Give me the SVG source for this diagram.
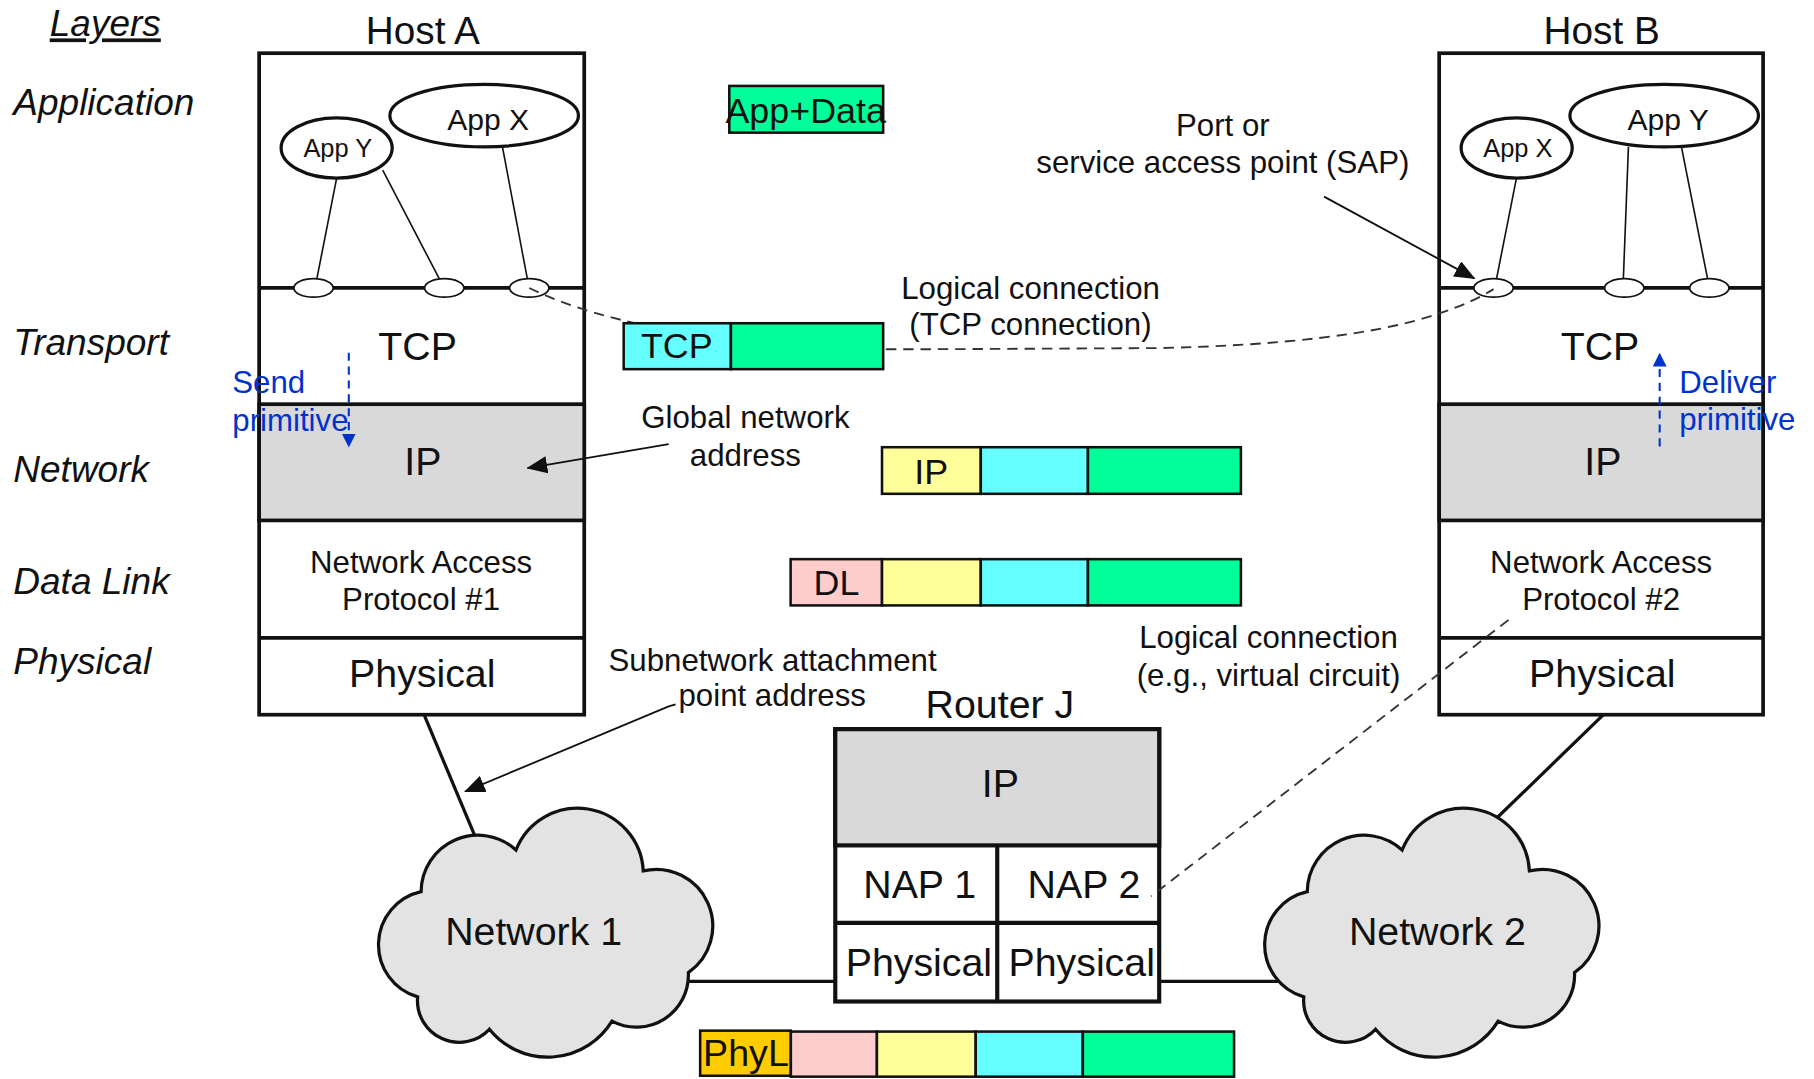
<svg xmlns="http://www.w3.org/2000/svg" width="1814" height="1079" viewBox="0 0 1814 1079">
<style>
.t{font-family:"Liberation Sans",Arial,Helvetica,sans-serif;fill:#111}
.it{font-style:italic;font-size:32px}
.c{text-anchor:middle}
.lbl{font-size:27px}
.big{font-size:34px}
.blue{fill:#0033cc;font-size:27px}
.box{fill:#fff;stroke:#111;stroke-width:3.2}
.gray{fill:#d9d9d9;stroke:#111;stroke-width:3.2}
.div{stroke:#111;stroke-width:3.2}
.app{fill:#fff;stroke:#111;stroke-width:2.8}
.port{fill:#fff;stroke:#111;stroke-width:1.5}
.thin{stroke:#111;stroke-width:1.4;fill:none}
.pk{stroke:#111;stroke-width:2.2}
.green{fill:#00ff99}.cyan{fill:#66ffff}.yellow{fill:#ffff99}.pink{fill:#ffcccc}.orange{fill:#ffcc00}
.cloud{fill:#e3e3e3;stroke:#111;stroke-width:2.8}
.link{stroke:#111;stroke-width:2.8;fill:none}
.dash{stroke:#333;stroke-width:1.6;fill:none;stroke-dasharray:9 6}
.arrow{stroke:#111;stroke-width:1.6;fill:none;marker-end:url(#arr)}
.bdash{stroke:#0033cc;stroke-width:1.8;fill:none;stroke-dasharray:7 5;marker-end:url(#arrb)}
</style>
<defs>
<marker id="arr" viewBox="0 0 18 15" refX="17" refY="7.5" markerWidth="18" markerHeight="15" orient="auto" markerUnits="userSpaceOnUse"><path d="M0,0 L18,7.5 L0,15 Z" fill="#111"/></marker>
<marker id="arrb" viewBox="0 0 12 12" refX="11" refY="6" markerWidth="12" markerHeight="12" orient="auto" markerUnits="userSpaceOnUse"><path d="M0,0 L12,6 L0,12 Z" fill="#0033cc"/></marker>
<path id="cloudShape" d="M1127,862 A47,47 0 0 1 1130,771 A49,49 0 0 1 1212,735 A57,57 0 0 1 1322,753 A49,49 0 0 1 1361,841 A45,45 0 0 1 1295,883 A65,65 0 0 1 1189,890 A36,36 0 0 1 1127,862 Z"/>
</defs>
<rect width="1814" height="1079" fill="#fff"/>
<g transform="scale(1.15689,1.15648)">

<g id="layers">
<text class="t it" x="43" y="31.5" text-decoration="underline">Layers</text>
<text class="t it" x="11.5" y="99.5">Application</text>
<text class="t it" x="11.5" y="307">Transport</text>
<text class="t it" x="11.5" y="417">Network</text>
<text class="t it" x="11.5" y="513.5">Data Link</text>
<text class="t it" x="11.5" y="582.5">Physical</text>
</g>

<g id="links">
<line class="link" x1="367" y1="619" x2="416" y2="736"/>
<line class="link" x1="1386" y1="618" x2="1290" y2="711"/>
<line class="link" x1="585" y1="848.5" x2="722" y2="848.5"/>
<line class="link" x1="1002" y1="848.5" x2="1118" y2="848.5"/>
</g>

<g id="host-a">
<rect class="box" x="224" y="46" width="281" height="572"/>
<rect class="gray" x="224" y="349.5" width="281" height="100.5"/>
<line class="div" x1="224" y1="249" x2="505" y2="249"/>
<line class="div" x1="224" y1="551.5" x2="505" y2="551.5"/>
<line class="thin" x1="291" y1="154" x2="273.9" y2="241"/>
<line class="thin" x1="330.8" y1="147" x2="379.7" y2="241"/>
<line class="thin" x1="434.3" y1="127" x2="455.8" y2="241"/>
<ellipse class="app" cx="291" cy="128" rx="48" ry="26"/>
<ellipse class="app" cx="418.5" cy="100" rx="81.5" ry="27"/>
<ellipse class="port" cx="271" cy="249" rx="17" ry="8"/>
<ellipse class="port" cx="384" cy="249" rx="17" ry="8"/>
<ellipse class="port" cx="457.5" cy="249" rx="17" ry="8"/>
<text class="t c" x="365.5" y="38.3" font-size="33.5">Host A</text>
<text class="t c" x="292" y="136" font-size="22">App Y</text>
<text class="t c" x="422" y="112.4" font-size="26">App X</text>
<text class="t c big" x="361" y="311.7">TCP</text>
<text class="t c big" x="365.5" y="410.6">IP</text>
<text class="t c" x="364" y="495.5" font-size="27">Network Access</text>
<text class="t c" x="364" y="527.8" font-size="27">Protocol #1</text>
<text class="t c big" x="365" y="594">Physical</text>
</g>

<g id="host-b">
<rect class="box" x="1244" y="46" width="280" height="572"/>
<rect class="gray" x="1244" y="349.5" width="280" height="100.5"/>
<line class="div" x1="1244" y1="249" x2="1524" y2="249"/>
<line class="div" x1="1244" y1="551.5" x2="1524" y2="551.5"/>
<line class="thin" x1="1310.8" y1="154" x2="1293.6" y2="241"/>
<line class="thin" x1="1407.6" y1="127" x2="1403.2" y2="241"/>
<line class="thin" x1="1453.2" y1="126" x2="1476" y2="241"/>
<ellipse class="app" cx="1311" cy="128" rx="48" ry="26"/>
<ellipse class="app" cx="1438.5" cy="100" rx="81.5" ry="27"/>
<ellipse class="port" cx="1291" cy="249" rx="17" ry="8"/>
<ellipse class="port" cx="1404" cy="249" rx="17" ry="8"/>
<ellipse class="port" cx="1477.5" cy="249" rx="17" ry="8"/>
<text class="t c" x="1384.5" y="38.3" font-size="33.5">Host B</text>
<text class="t c" x="1312" y="136" font-size="22">App X</text>
<text class="t c" x="1442" y="112.4" font-size="26">App Y</text>
<text class="t c big" x="1383" y="311.7">TCP</text>
<text class="t c big" x="1385.5" y="410.6">IP</text>
<text class="t c" x="1384" y="495.5" font-size="27">Network Access</text>
<text class="t c" x="1384" y="527.8" font-size="27">Protocol #2</text>
<text class="t c big" x="1385" y="594">Physical</text>
</g>

<g id="router-j">
<rect class="box" x="722" y="630.5" width="280" height="235.5" style="stroke-width:3.6"/>
<rect class="gray" x="722" y="630.5" width="280" height="100.5" style="stroke-width:3.6"/>
<line class="div" x1="722" y1="798" x2="1002" y2="798" style="stroke-width:3.6"/>
<line class="div" x1="862" y1="731" x2="862" y2="866" style="stroke-width:3.6"/>
<text class="t c big" x="864.3" y="621">Router J</text>
<text class="t c big" x="864.7" y="689.2">IP</text>
<text class="t c big" x="795" y="776.5">NAP 1</text>
<text class="t c big" x="937" y="776.5">NAP 2</text>
<text class="t c big" x="794.3" y="843.6">Physical</text>
<text class="t c big" x="935" y="843.6">Physical</text>
</g>

<g id="network-1">
<use href="#cloudShape" class="cloud" transform="translate(-766,0)"/>
<text class="t c big" x="461.3" y="816.8">Network 1</text>
</g>

<g id="network-2">
<use href="#cloudShape" class="cloud"/>
<text class="t c big" x="1242.5" y="816.8">Network 2</text>
</g>

<g id="connectors">
<path class="dash" d="M457.5,249 C490,265 530,277 600,290 C680,303 740,302 800,302 L1000,301 C1100,299 1190,290 1244,271 C1265,264 1280,257 1291,250"/>
<line class="dash" x1="1304" y1="536" x2="995" y2="775"/>
<line class="arrow" x1="1144.5" y1="170" x2="1274.4" y2="240.7"/>
<line class="arrow" x1="578" y1="384" x2="456" y2="404.8"/>
<polyline class="arrow" points="584,609 578,610.8 402,684.4"/>
<line class="bdash" x1="301.5" y1="305" x2="301.5" y2="386"/>
<line class="bdash" x1="1434.6" y1="386" x2="1434.6" y2="306"/>
</g>

<g id="labels">
<text class="t c lbl" x="1057" y="118">Port or</text>
<text class="t c lbl" x="1057" y="149.8">service access point (SAP)</text>
<text class="t c lbl" x="890.8" y="258.7">Logical connection</text>
<text class="t c lbl" x="890.7" y="289.6">(TCP connection)</text>
<text class="t c lbl" x="644.3" y="370.2">Global network</text>
<text class="t c lbl" x="644.3" y="402.8">address</text>
<text class="t c lbl" x="667.8" y="580.6">Subnetwork attachment</text>
<text class="t c lbl" x="667.5" y="610.2">point address</text>
<text class="t c lbl" x="1096.5" y="560.4">Logical connection</text>
<text class="t c lbl" x="1096.5" y="593.5">(e.g., virtual circuit)</text>
<text class="t blue" x="200.8" y="340">Send</text>
<text class="t blue" x="200.8" y="372.5">primitive</text>
<text class="t blue" x="1451.5" y="340">Deliver</text>
<text class="t blue" x="1451.5" y="372">primitive</text>
</g>

<g id="pkt-app">
<rect class="pk green" x="630.4" y="74.3" width="133" height="40.4"/>
<text class="t c" x="696.4" y="106" font-size="31">App+Data</text>
</g>

<g id="pkt-tcp">
<rect class="pk cyan" x="539.1" y="279.5" width="92.7" height="39.7"/>
<rect class="pk green" x="631.8" y="279.5" width="131.6" height="39.7"/>
<text class="t c" x="585" y="309.7" font-size="31">TCP</text>
</g>

<g id="pkt-ip">
<rect class="pk yellow" x="762.4" y="386.7" width="85.4" height="40.3"/>
<rect class="pk cyan" x="847.8" y="386.7" width="92.6" height="40.3"/>
<rect class="pk green" x="940.4" y="386.7" width="132.2" height="40.3"/>
<text class="t c" x="805" y="418.6" font-size="31">IP</text>
</g>

<g id="pkt-dl">
<rect class="pk pink" x="683.4" y="483.5" width="79" height="40"/>
<rect class="pk yellow" x="762.4" y="483.5" width="85.4" height="40"/>
<rect class="pk cyan" x="847.8" y="483.5" width="92.6" height="40"/>
<rect class="pk green" x="940.4" y="483.5" width="132.2" height="40"/>
<text class="t c" x="723" y="514.3" font-size="31">DL</text>
</g>

<g id="pkt-phyl">
<rect class="pk orange" x="605.2" y="891.2" width="78.4" height="39"/>
<rect class="pk pink" x="683.6" y="892" width="74.4" height="39"/>
<rect class="pk yellow" x="758" y="892" width="85.4" height="39"/>
<rect class="pk cyan" x="843.4" y="892" width="92.6" height="39"/>
<rect class="pk green" x="936" y="892" width="130.7" height="39"/>
<text class="t c" x="644.8" y="922" font-size="32.5">PhyL</text>
</g>

</g>
</svg>
